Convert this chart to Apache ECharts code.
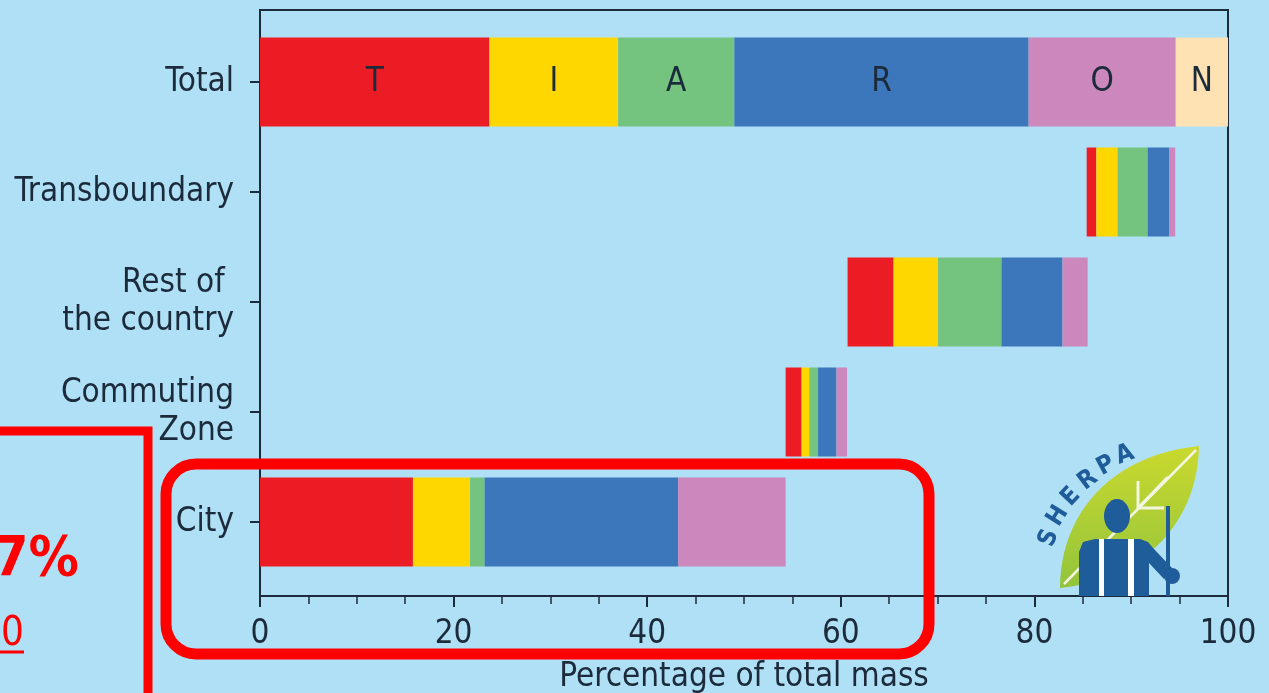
<!DOCTYPE html>
<html>
<head>
<meta charset="utf-8">
<script src="https://cdn.jsdelivr.net/npm/echarts@6/dist/echarts.min.js"></script>
<style>
  html, body { margin: 0; padding: 0; background: #B0E0F6; }
  #chart { width: 1269px; height: 693px; }
</style>
</head>
<body>
<div id="chart"></div>
<script>
// Source contributions to PM mass, bottom to top: city first, total at the top
const categories = ['City', 'Commuting\nZone', 'Rest of \nthe country', 'Transboundary', 'Total'];
const sectorNames = ['T', 'I', 'A', 'R', 'O', 'N'];

// Where each bar starts (waterfall offset, % of total mass)
const offsets = [0, 54.3, 60.7, 85.4, 0];

// Sector shares per category (% of total mass)
const valuesT = [15.8, 1.65, 4.75, 1.0, 23.7];
const valuesI = [5.9, 0.8, 4.6, 2.2, 13.3];
const valuesA = [1.5, 0.9, 6.55, 3.1, 12.0];
const valuesR = [20.0, 1.9, 6.3, 2.25, 30.4];
const valuesO = [11.1, 1.1, 2.6, 0.6, 15.2];
const valuesN = [0, 0, 0, 0, 5.4];

const xTicks = [0, 20, 40, 60, 80, 100];

const sectorValues = [valuesT, valuesI, valuesA, valuesR, valuesO, valuesN];
const sectorColors = ['#EC1C24', '#FFD700', '#74C47F', '#3C77BC', '#CC88BC', '#FFE2B4'];

const FONT = "'DejaVu Sans Condensed', 'DejaVu Sans', sans-serif";
const FS = 33;
const INK = '#1C2B3B';
const RED = '#FF0000';
const LOGO_BLUE = '#1F5C9A';
const totalIndex = categories.indexOf('Total');

const chart = echarts.init(document.getElementById('chart'), null, { renderer: 'canvas' });

const sectorSeries = sectorNames.map((name, s) => ({
  name,
  type: 'bar',
  stack: 'mass',
  barWidth: 89,
  xAxisIndex: 0,
  yAxisIndex: 0,
  itemStyle: { color: sectorColors[s] },
  label: { show: false },
  silent: true,
  data: sectorValues[s].map((v, i) => i === totalIndex
    ? { value: v, label: { show: true, position: 'inside', formatter: name,
        color: INK, fontSize: FS, fontFamily: FONT } }
    : v)
}));

// sample a cubic Bezier into polygon points (logo outline)
function bezierPoints(p0, p1, p2, p3, n) {
  const pts = [];
  for (let k = 0; k <= n; k++) {
    const t = k / n, u = 1 - t;
    pts.push([
      u * u * u * p0[0] + 3 * u * u * t * p1[0] + 3 * u * t * t * p2[0] + t * t * t * p3[0],
      u * u * u * p0[1] + 3 * u * u * t * p1[1] + 3 * u * t * t * p2[1] + t * t * t * p3[1]
    ]);
  }
  return pts;
}
const leafOutline = bezierPoints([1060, 588], [1060, 515], [1110, 455], [1199, 446], 24)
  .concat(bezierPoints([1199, 446], [1198, 515], [1152, 578], [1060, 588], 24).slice(1));

// "SHERPA" letters laid along an arc
const sherpaLetters = [
  { ch: 'S', x: 1049, y: 538, rot: 68 },
  { ch: 'H', x: 1058, y: 516, rot: 58 },
  { ch: 'E', x: 1071, y: 497, rot: 47 },
  { ch: 'R', x: 1088, y: 480, rot: 37 },
  { ch: 'P', x: 1106, y: 466, rot: 28 },
  { ch: 'A', x: 1125, y: 455, rot: 20 }
];

const option = {
  backgroundColor: '#B0E0F6',
  animation: false,
  grid: [
    { left: 260, right: 41, top: 27, bottom: 116, containLabel: false, outerBoundsMode: 'none' },
    { left: 260, right: 41, top: 10, bottom: 97, show: true, outerBoundsMode: 'none',
      borderColor: INK, borderWidth: 2, backgroundColor: 'transparent' }
  ],
  xAxis: [
    {
      type: 'value', gridIndex: 0, min: xTicks[0], max: xTicks[xTicks.length - 1],
      interval: xTicks[1] - xTicks[0], offset: 19,
      name: 'Percentage of total mass', nameLocation: 'middle', nameGap: 65,
      nameTextStyle: { color: INK, fontSize: FS, fontFamily: FONT },
      axisLine: { show: true, lineStyle: { color: INK, width: 2 } },
      axisTick: { show: true, length: 11, lineStyle: { color: INK, width: 2 } },
      minorTick: { show: true, splitNumber: 4, length: 8, lineStyle: { color: INK, width: 1.5 } },
      axisLabel: { color: INK, fontSize: FS, fontFamily: FONT, margin: 22 },
      splitLine: { show: false }
    },
    { type: 'value', gridIndex: 1, min: 0, max: 100, show: false }
  ],
  yAxis: [
    {
      type: 'category', gridIndex: 0, data: categories,
      axisLine: { show: false },
      axisTick: { show: true, alignWithLabel: true, length: 10, lineStyle: { color: INK, width: 2 } },
      axisLabel: { color: INK, fontSize: FS, fontFamily: FONT, margin: 26, lineHeight: 38 },
      splitLine: { show: false }
    },
    { type: 'value', gridIndex: 1, show: false }
  ],
  series: [
    {
      name: 'offset', type: 'bar', stack: 'mass', barWidth: 89, silent: true,
      itemStyle: { color: 'transparent' }, data: offsets
    },
    ...sectorSeries
  ],
  graphic: [
    // highlight around the city bar
    { type: 'rect', shape: { x: 166, y: 464, width: 763, height: 190, r: 30 },
      style: { fill: 'none', stroke: RED, lineWidth: 11 }, z: 100 },
    // side call-out box
    { type: 'polyline', shape: { points: [[0, 431], [148, 431], [148, 693]] },
      style: { fill: 'none', stroke: RED, lineWidth: 9 }, z: 100 },
    { type: 'text', x: 79, y: 588, z: 100,
      style: { text: '7%', textAlign: 'right', textVerticalAlign: 'bottom',
        fill: RED, font: "bold 56px " + FONT } },
    { type: 'text', x: 24, y: 655, z: 100,
      style: { text: '0', textAlign: 'right', textVerticalAlign: 'bottom',
        fill: RED, font: "40px " + FONT } },
    { type: 'line', shape: { x1: 0, y1: 652, x2: 24, y2: 652 },
      style: { stroke: RED, lineWidth: 3 }, z: 100 },

    // SHERPA logo: leaf
    { type: 'polygon', z: 50, shape: { points: leafOutline },
      style: { fill: { type: 'linear', x: 0, y: 0, x2: 0, y2: 1,
        colorStops: [{ offset: 0, color: '#CAD92E' }, { offset: 1, color: '#93C43C' }] } } },
    // leaf vein and arrow
    { type: 'polyline', z: 51, shape: { points: [[1064, 584], [1196, 450]] },
      style: { stroke: '#F2F6E0', lineWidth: 2.5, fill: 'none' } },
    { type: 'polyline', z: 51, shape: { points: [[1168, 477], [1138, 508]] },
      style: { stroke: '#F2F6E0', lineWidth: 3, fill: 'none' } },
    { type: 'polyline', z: 51, shape: { points: [[1138, 481], [1138, 508], [1164, 508]] },
      style: { stroke: '#F2F6E0', lineWidth: 3, fill: 'none' } },
    // figure
    { type: 'ellipse', z: 52, shape: { cx: 1117, cy: 516, rx: 13, ry: 17 },
      style: { fill: LOGO_BLUE } },
    { type: 'polygon', z: 52,
      shape: { points: [[1079, 596], [1079, 552], [1083, 542], [1095, 539], [1140, 539],
        [1148, 542], [1153, 548], [1172, 568], [1164, 579], [1149, 563], [1149, 596]] },
      style: { fill: LOGO_BLUE } },
    { type: 'rect', z: 53, shape: { x: 1099, y: 539, width: 5, height: 57 }, style: { fill: '#FFFFFF' } },
    { type: 'rect', z: 53, shape: { x: 1128, y: 539, width: 6, height: 57 }, style: { fill: '#FFFFFF' } },
    { type: 'rect', z: 52, shape: { x: 1166, y: 506, width: 4, height: 90 }, style: { fill: LOGO_BLUE } },
    { type: 'circle', z: 53, shape: { cx: 1172, cy: 576, r: 8 }, style: { fill: LOGO_BLUE } },
    ...sherpaLetters.map(l => ({
      type: 'text', x: l.x, y: l.y, rotation: l.rot * Math.PI / 180, z: 52,
      style: { text: l.ch, textAlign: 'center', textVerticalAlign: 'middle',
        fill: LOGO_BLUE, font: "bold 25px " + FONT }
    }))
  ]
};

chart.setOption(option);
</script>
</body>
</html>
